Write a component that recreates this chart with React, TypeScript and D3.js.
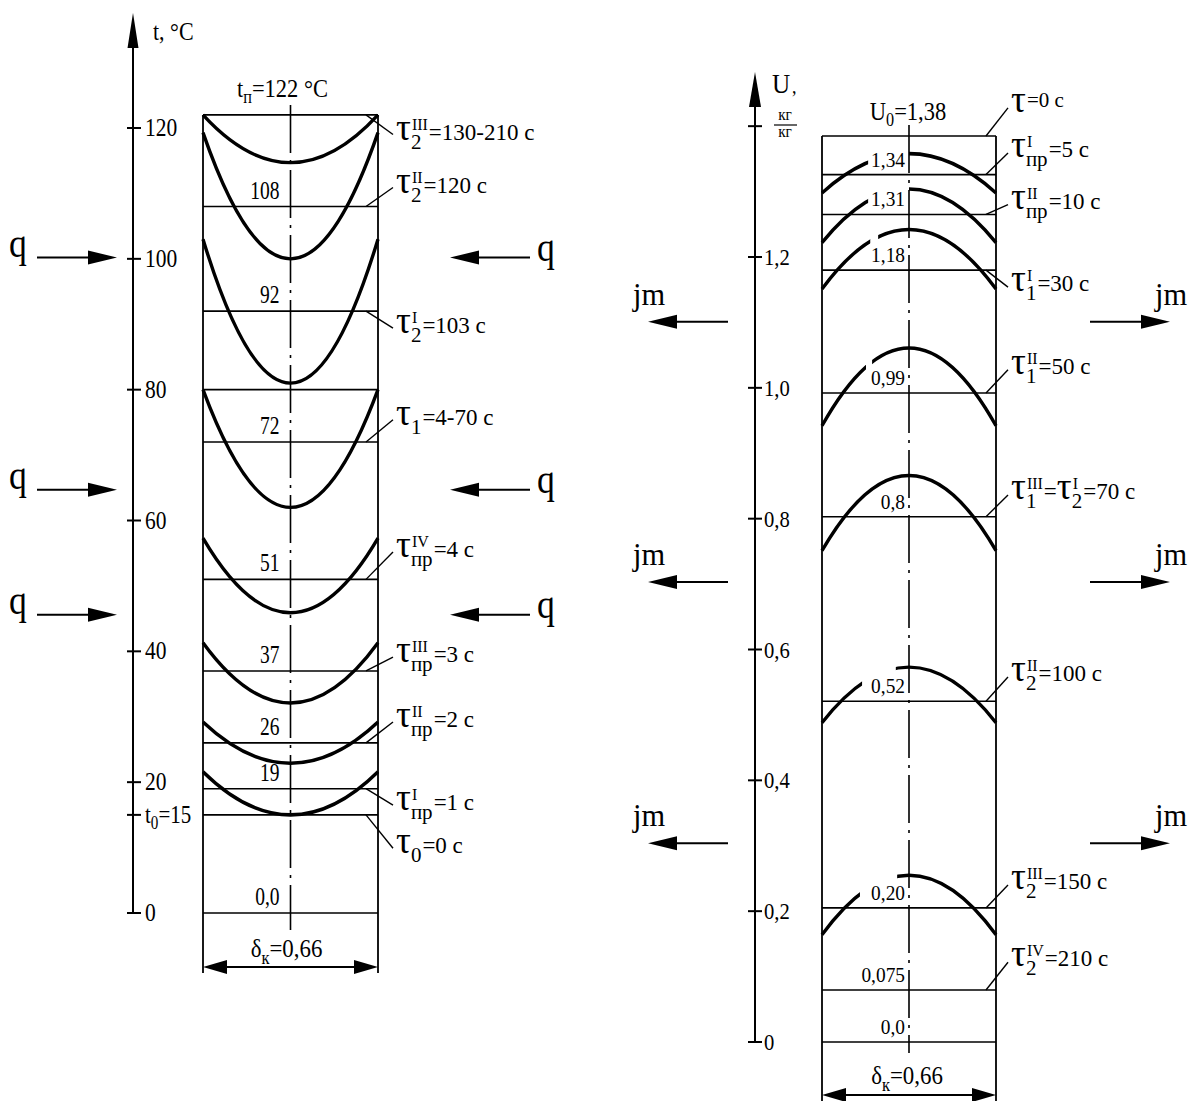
import { useEffect, useRef } from 'react';
import * as d3 from 'd3';

// left panel: temperature t, °C
const tTicks = [0, 20, 40, 60, 80, 100, 120];
const tLevels = [0, 15, 19, 26, 37, 51, 72, 80, 92, 108, 122];
const tLevelText = ['0,0', '', '19', '26', '37', '51', '72', '', '92', '108', ''];
const tEdge = [21.6, 29.2, 41.3, 57.3, 80, 103, 119.3, 122];
const tCenter = [15, 22.9, 32.1, 45.9, 62, 81, 100, 114.7];
const tNames = [
  'τ_2^III=130-210 c',
  'τ_2^II=120 c',
  'τ_2^I=103 c',
  'τ_1=4-70 c',
  'τ_пр^IV=4 c',
  'τ_пр^III=3 c',
  'τ_пр^II=2 c',
  'τ_пр^I=1 c',
  'τ_0=0 c',
];
const tNameFrom = [122, 108, 92, 72, 51, 37, 26, 19, 15];
const tNameAt = [119, 110.9, 89.4, 75.4, 55.2, 39.1, 29.2, 16.5, 9.9];
const qLevels = [100.2, 64.7, 45.6];

// right panel: moisture U, кг/кг
const uTicks = [0, 0.2, 0.4, 0.6, 0.8, 1.0, 1.2, 1.4];
const uTickText = ['0', '0,2', '0,4', '0,6', '0,8', '1,0', '1,2', ''];
const uLevels = [0, 0.0795, 0.205, 0.521, 0.803, 0.992, 1.18, 1.265, 1.326, 1.385];
const uLevelText = ['0,0', '0,075', '0,20', '0,52', '0,8', '0,99', '1,18', '1,31', '1,34', ''];
const uEdge = [1.298, 1.222, 1.151, 0.942, 0.751, 0.488, 0.164];
const uCenter = [1.358, 1.304, 1.242, 1.061, 0.866, 0.573, 0.255];
const uGapFrom = [0.175, 0.175, 0.183, 0.167, null, 0.152, 0.144];
const uGapTo = [0.33, 0.33, 0.213, 0.19, null, 0.28, 0.285];
const uNames = [
  'τ=0 c',
  'τ_пр^I=5 c',
  'τ_пр^II=10 c',
  'τ_1^I=30 c',
  'τ_1^II=50 c',
  'τ_1^III=τ_2^I=70 c',
  'τ_2^II=100 c',
  'τ_2^III=150 c',
  'τ_2^IV=210 c',
];
const uNameFrom = [1.385, 1.326, 1.265, 1.18, 0.992, 0.803, 0.521, 0.205, 0.0795];
const uNameAt = [1.428, 1.359, 1.28, 1.154, 1.0275, 0.836, 0.558, 0.24, 0.122];
const jmLevels = [1.101, 0.703, 0.304];

const delta = 0.66;

type G = d3.Selection<SVGGElement, unknown, null, undefined>;

function txt(g: G, x: number, y: number, s: string, size: number, sx = 1, anchor = 'start') {
  return g
    .append('text')
    .attr('transform', `translate(${x},${y}) scale(${sx},1)`)
    .attr('text-anchor', anchor)
    .attr('font-size', size)
    .text(s);
}

// main + subscript + rest, e.g. t_0=15
function subTxt(
  g: G, x: number, y: number, main: string, sub: string, rest: string,
  size: number, sx = 1, anchor = 'start',
) {
  const t = g
    .append('text')
    .attr('transform', `translate(${x},${y}) scale(${sx},1)`)
    .attr('text-anchor', anchor)
    .attr('font-size', size);
  t.append('tspan').text(main);
  t.append('tspan').attr('dy', size * 0.25).attr('font-size', size * 0.72).text(sub);
  t.append('tspan').attr('dy', -size * 0.25).text(rest);
  return t;
}

function line(g: G, x1: number, y1: number, x2: number, y2: number, w = 1.6) {
  return g
    .append('line')
    .attr('x1', x1)
    .attr('y1', y1)
    .attr('x2', x2)
    .attr('y2', y2)
    .attr('stroke', '#000')
    .attr('stroke-width', w);
}

function arrow(g: G, x1: number, x2: number, y: number) {
  const dir = Math.sign(x2 - x1);
  line(g, x1, y, x2 - dir * 20, y, 2);
  g.append('path')
    .attr('d', `M${x2},${y} L${x2 - dir * 29},${y - 7} L${x2 - dir * 29},${y + 7}Z`)
    .attr('fill', '#000');
}

function dimension(g: G, x1: number, x2: number, y: number) {
  line(g, x1 + 10, y, x2 - 10, y, 2);
  g.append('path').attr('d', `M${x1},${y} L${x1 + 24},${y - 7} L${x1 + 24},${y + 7}Z`).attr('fill', '#000');
  g.append('path').attr('d', `M${x2},${y} L${x2 - 24},${y - 7} L${x2 - 24},${y + 7}Z`).attr('fill', '#000');
}

// τ labels: "τ_sub^sup rest", several τ groups allowed
function tauLabel(g: G, x: number, y: number, label: string) {
  const re = /τ(?:_([^\^=τ]+))?(?:\^([^=τ]+))?|[^τ]+/g;
  let cx = x;
  let raised = false;
  for (const m of label.matchAll(re)) {
    if (m[0].startsWith('τ')) {
      const t = g.append('text').attr('x', cx).attr('y', y).attr('font-size', 37).text('τ');
      cx += (t.node() as SVGTextElement).getComputedTextLength();
      let w = 0;
      if (m[1]) {
        const s = g.append('text').attr('x', cx).attr('y', y + 9).attr('font-size', 21).text(m[1]);
        w = Math.max(w, (s.node() as SVGTextElement).getComputedTextLength());
      }
      if (m[2]) {
        const s = g.append('text').attr('x', cx + 1).attr('y', y - 10).attr('font-size', 16).text(m[2]);
        w = Math.max(w, (s.node() as SVGTextElement).getComputedTextLength() + 1);
      }
      raised = !m[1] && !m[2];
      cx += w + 1;
    } else {
      const s = g
        .append('text')
        .attr('x', cx)
        .attr('y', raised ? y - 5 : y)
        .attr('font-size', raised ? 21 : 23)
        .text(m[0]);
      cx += (s.node() as SVGTextElement).getComputedTextLength();
    }
  }
}

function parabola(x: d3.ScaleLinear<number, number>, y: d3.ScaleLinear<number, number>, edge: number, center: number) {
  const p = d3.path();
  p.moveTo(x(0), y(edge));
  p.quadraticCurveTo(x(delta / 2), y(2 * center - edge), x(delta), y(edge));
  return p.toString();
}

export default function App() {
  const svgRef = useRef<SVGSVGElement>(null);

  useEffect(() => {
    if (!svgRef.current) return;
    const svg = d3.select(svgRef.current);
    svg.selectAll('*').remove();
    const g = svg.append('g') as G;
    const defs = svg.append('defs');

    // ---------------- left panel ----------------
    const tY = d3.scaleLinear().domain([0, 120]).range([913, 128]);
    const xL = d3.scaleLinear().domain([0, delta]).range([203, 378]);
    const axL = 133;

    line(g, axL, 40, axL, tY(0), 2);
    g.append('path').attr('d', `M${axL},13 L${axL + 5.5},48 L${axL - 5.5},48Z`).attr('fill', '#000');
    [...tTicks, 15].forEach((v) => line(g, axL - 6, tY(v), axL + 8, tY(v), 2));
    tTicks.forEach((v) => txt(g, axL + 12, tY(v) + 8, String(v), 25, 0.86));
    subTxt(g, axL + 12, tY(15) + 8, 't', '0', '=15', 25, 0.84);
    txt(g, 153, 40, 't, °C', 25, 0.88);
    subTxt(g, 237, 97, 't', 'п', '=122 °C', 25, 0.9);

    // frame
    line(g, xL(0), tY(122), xL(0), tY(0) + 60, 1.8);
    line(g, xL(delta), tY(122), xL(delta), tY(0) + 60, 1.8);
    tLevels.forEach((v, i) => {
      line(g, xL(0), tY(v), xL(delta), tY(v), 1.6);
      if (tLevelText[i]) txt(g, xL(delta / 2) - 11, tY(v) - 8, tLevelText[i], 25, 0.78, 'end');
    });
    line(g, xL(delta / 2), tY(122) - 10, xL(delta / 2), tY(0) + 17, 1.6).attr('stroke-dasharray', '48,7,3,7');

    tEdge.forEach((e, i) => {
      g.append('path')
        .attr('d', parabola(xL, tY, e, tCenter[i]))
        .attr('fill', 'none')
        .attr('stroke', '#000')
        .attr('stroke-width', 3.4);
    });

    tNames.forEach((n, i) => {
      const y0 = tY(tNameFrom[i]);
      const y1 = tY(tNameAt[i]);
      line(g, xL(delta) - 12, y0, xL(delta) + 15, y1, 1.4);
      tauLabel(g, xL(delta) + 18, y1 + 5, n);
    });

    dimension(g, xL(0), xL(delta), tY(0) + 54);
    subTxt(g, xL(delta / 2) - 4, tY(0) + 44, 'δ', 'к', '=0,66', 26, 0.88, 'middle');

    qLevels.forEach((v) => {
      const y = tY(v);
      arrow(g, 37, 117, y);
      txt(g, 9, y - 1, 'q', 42, 0.85);
      arrow(g, 530, 450, y);
      txt(g, 537, y + 3, 'q', 42, 0.85);
    });

    // ---------------- right panel ----------------
    const uY = d3.scaleLinear().domain([0, 1.2]).range([1042, 257]);
    const xR = d3.scaleLinear().domain([0, delta]).range([822, 996]);
    const axR = 755;

    line(g, axR, 100, axR, uY(0), 2);
    g.append('path').attr('d', `M${axR},72 L${axR + 6},107 L${axR - 6},107Z`).attr('fill', '#000');
    uTicks.forEach((v, i) => {
      line(g, axR - 7, uY(v), axR + 7, uY(v), 2);
      if (uTickText[i]) txt(g, axR + 9, uY(v) + 8, uTickText[i], 24, 0.86);
    });
    txt(g, 772, 93, 'U', 28, 0.9);
    txt(g, 792, 93, ',', 20, 0.9);
    txt(g, 785, 120, 'кг', 17, 0.9, 'middle');
    line(g, 774, 125, 797, 125, 1.2);
    txt(g, 785, 137, 'кг', 17, 0.9, 'middle');
    subTxt(g, xR(delta / 2) - 1, 120, 'U', '0', '=1,38', 25, 0.9, 'middle');

    line(g, xR(0), uY(1.385), xR(0), 1101, 1.8);
    line(g, xR(delta), uY(1.385), xR(delta), 1101, 1.8);
    uLevels.forEach((v, i) => {
      line(g, xR(0), uY(v), xR(delta), uY(v), 1.6);
      if (uLevelText[i]) txt(g, xR(delta / 2) - 4, uY(v) - 8, uLevelText[i], 22, 0.88, 'end');
    });
    line(g, xR(delta / 2), uY(1.385) - 11, xR(delta / 2), uY(0) + 11, 1.6).attr('stroke-dasharray', '48,7,3,7');

    uEdge.forEach((e, i) => {
      const id = `uclip${i}`;
      const cp = defs.append('clipPath').attr('id', id);
      const from = uGapFrom[i];
      const to = uGapTo[i];
      if (from === null || to === null) {
        cp.append('rect').attr('x', 0).attr('y', 0).attr('width', 1200).attr('height', 1101);
      } else {
        cp.append('rect').attr('x', 0).attr('y', 0).attr('width', xR(from)).attr('height', 1101);
        cp.append('rect').attr('x', xR(to)).attr('y', 0).attr('width', 1200 - xR(to)).attr('height', 1101);
      }
      g.append('path')
        .attr('d', parabola(xR, uY, e, uCenter[i]))
        .attr('clip-path', `url(#${id})`)
        .attr('fill', 'none')
        .attr('stroke', '#000')
        .attr('stroke-width', 3.4);
    });

    uNames.forEach((n, i) => {
      const y0 = uY(uNameFrom[i]);
      const y1 = uY(uNameAt[i]);
      line(g, xR(delta) - 10, y0, xR(delta) + 12, y1, 1.4);
      tauLabel(g, xR(delta) + 15, y1 + 4, n);
    });

    dimension(g, xR(0), xR(delta), 1095);
    subTxt(g, xR(delta / 2) - 2, 1084, 'δ', 'к', '=0,66', 26, 0.88, 'middle');

    jmLevels.forEach((v) => {
      const y = uY(v);
      arrow(g, 728, 648, y);
      txt(g, 633, y - 17, 'jm', 32, 0.95);
      arrow(g, 1090, 1170, y);
      txt(g, 1155, y - 17, 'jm', 32, 0.95);
    });
  }, []);

  return (
    <svg
      ref={svgRef}
      width={1200}
      height={1101}
      style={{
        position: 'absolute',
        left: 0,
        top: 0,
        background: '#fff',
        fontFamily: "'Liberation Serif', 'Times New Roman', serif",
      }}
    />
  );
}
